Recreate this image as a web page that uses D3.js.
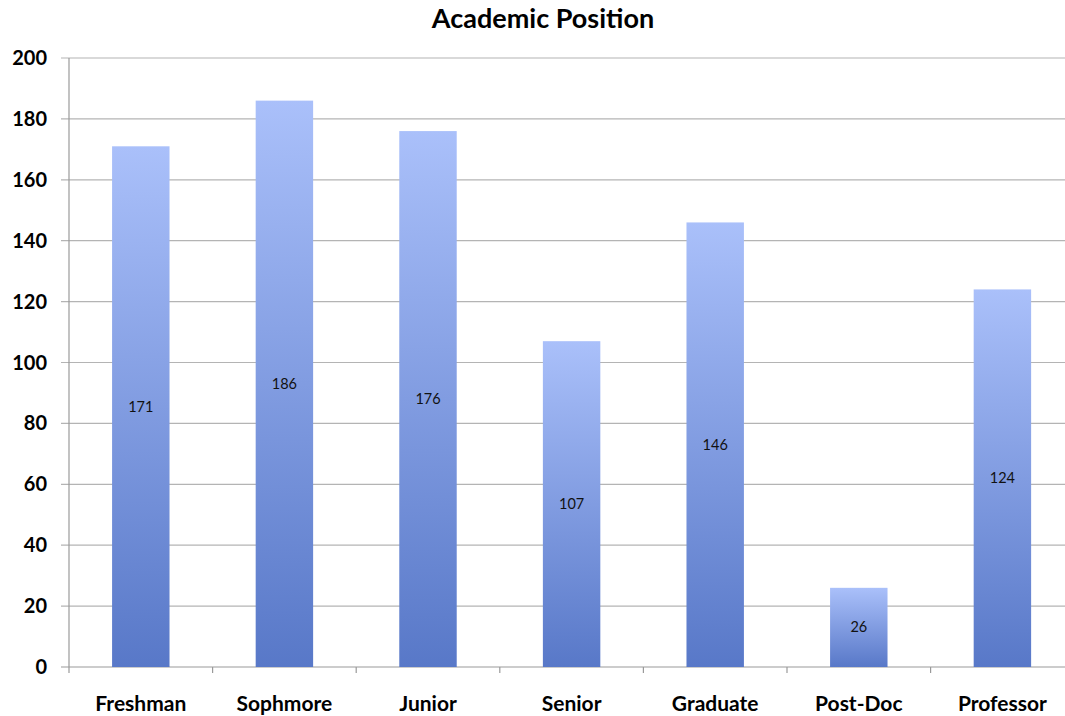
<!DOCTYPE html>
<html>
<head>
<meta charset="utf-8">
<script src="https://cdn.jsdelivr.net/npm/d3@7"></script>
<style>
body { margin: 0; background: #fff; }
text { font-family: Lato, "Open Sans", sans-serif; }
</style>
</head>
<body>
<script>
const width = 1065;
const height = 716;

const categories = ["Freshman", "Sophmore", "Junior", "Senior", "Graduate", "Post-Doc", "Professor"];
const counts = [171, 186, 176, 107, 146, 26, 124];
const yTicks = [0, 20, 40, 60, 80, 100, 120, 140, 160, 180, 200];
const title = "Academic Position";

const plotLeft = 69;
const band = 143.6;
const plotTop = 58;
const plotBottom = 667;

const svg = d3.select("body").append("svg")
    .attr("width", width)
    .attr("height", height);

// gradient shared by all bars (per-bar bounding box)
const grad = svg.append("defs").append("linearGradient")
    .attr("id", "barGrad")
    .attr("x1", 0).attr("y1", 0).attr("x2", 0).attr("y2", 1);
grad.append("stop").attr("offset", "0%").attr("stop-color", "#aac0fa");
grad.append("stop").attr("offset", "100%").attr("stop-color", "#5878c8");

const x = d3.scaleBand()
    .domain(categories)
    .range([plotLeft, plotLeft + band * categories.length])
    .paddingInner(0.6)
    .paddingOuter(0.3);

const y = d3.scaleLinear()
    .domain([0, 200])
    .range([plotBottom, plotTop]);

// gridlines
svg.append("g")
    .selectAll("line")
    .data(yTicks)
    .enter().append("line")
    .attr("x1", plotLeft - 8)
    .attr("x2", width)
    .attr("y1", d => y(d))
    .attr("y2", d => y(d))
    .attr("stroke", d => d === 0 ? "#9a9a9a" : "#b4b4b4")
    .attr("stroke-width", 1.2);

// y axis line
svg.append("line")
    .attr("x1", plotLeft).attr("x2", plotLeft)
    .attr("y1", plotTop).attr("y2", plotBottom)
    .attr("stroke", "#9a9a9a")
    .attr("stroke-width", 1.2);

// category boundary ticks
svg.append("g")
    .selectAll("line")
    .data(d3.range(categories.length + 1))
    .enter().append("line")
    .attr("x1", i => plotLeft + i * band)
    .attr("x2", i => plotLeft + i * band)
    .attr("y1", plotBottom)
    .attr("y2", plotBottom + 6)
    .attr("stroke", "#9a9a9a")
    .attr("stroke-width", 1.2);

// y tick labels
svg.append("g")
    .selectAll("text")
    .data(yTicks)
    .enter().append("text")
    .attr("x", 47)
    .attr("y", d => y(d))
    .attr("dy", "0.35em")
    .attr("text-anchor", "end")
    .attr("font-size", 20)
    .attr("font-weight", "bold")
    .attr("fill", "#000")
    .text(d => d);

// bars
svg.append("g")
    .selectAll("rect")
    .data(categories)
    .enter().append("rect")
    .attr("x", d => x(d))
    .attr("width", x.bandwidth())
    .attr("y", (d, i) => y(counts[i]))
    .attr("height", (d, i) => y(0) - y(counts[i]))
    .attr("fill", "url(#barGrad)");

// value labels at mid-height
svg.append("g")
    .selectAll("text")
    .data(categories)
    .enter().append("text")
    .attr("x", d => x(d) + x.bandwidth() / 2)
    .attr("y", (d, i) => y(counts[i] / 2))
    .attr("dy", "0.35em")
    .attr("text-anchor", "middle")
    .attr("font-size", 14.5)
    .attr("fill", "#111")
    .text((d, i) => counts[i]);

// category labels
svg.append("g")
    .selectAll("text")
    .data(categories)
    .enter().append("text")
    .attr("x", d => x(d) + x.bandwidth() / 2)
    .attr("y", 711)
    .attr("text-anchor", "middle")
    .attr("font-size", 21)
    .attr("font-weight", "bold")
    .attr("fill", "#000")
    .text(d => d);

// title
svg.append("text")
    .attr("x", 543)
    .attr("y", 28)
    .attr("text-anchor", "middle")
    .attr("font-size", 27)
    .attr("font-weight", "bold")
    .attr("fill", "#000")
    .text(title);
</script>
</body>
</html>
